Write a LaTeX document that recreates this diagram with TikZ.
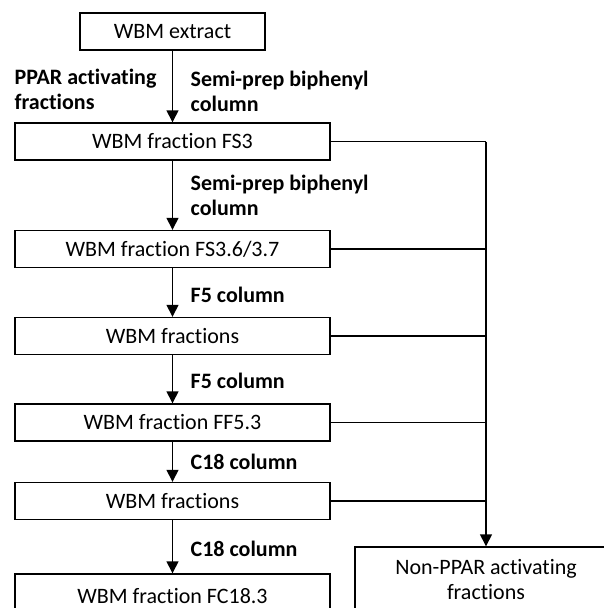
\documentclass[tikz,border=0pt]{standalone}
\usepackage{fontspec}
\setmainfont{Carlito}[Ligatures={NoCommon}]
\usetikzlibrary{arrows.meta}

\begin{document}
\begin{tikzpicture}[x=1pt,y=-1pt,line width=1.4pt,font=\fontsize{22}{25}\selectfont,
  box/.style={draw,rectangle,minimum height=37pt,inner sep=0pt},
  lbl/.style={anchor=west,align=left,font=\fontsize{22}{25}\selectfont\bfseries,inner sep=0pt},
  arr/.style={-{Triangle[width=12pt,length=12pt]}}]
\path[use as bounding box] (0,0) rectangle (604,608);
\clip (0,0) rectangle (604,608);
% main column
\node[box,minimum width=185pt] (ext) at (172.5,31.5) {WBM extract};
\node[box,minimum width=315pt] (fs3) at (172.5,141.5) {WBM fraction FS3};
\node[box,minimum width=315pt] (fs36) at (172.5,249) {WBM fraction FS3.6/3.7};
\node[box,minimum width=315pt] (fr1) at (172.5,336) {WBM fractions};
\node[box,minimum width=315pt] (ff53) at (172.5,422.5) {WBM fraction FF5.3};
\node[box,minimum width=315pt] (fr2) at (172.5,501) {WBM fractions};
\node[box,minimum width=315pt,minimum height=44pt] (fc183) at (172.5,596) {WBM fraction FC18.3};
\node[box,minimum width=262pt,minimum height=66pt,align=center] (non) at (486,580) {Non-PPAR activating\\fractions};
\foreach \a/\b in {ext/fs3,fs3/fs36,fs36/fr1,fr1/ff53,ff53/fr2,fr2/fc183} {\draw[arr] (\a.south) -- (\b.north);}
% side branch
\coordinate (bus) at (486,141.5);
\foreach \n in {fs3,fs36,fr1,ff53,fr2} {\draw (\n.east) -- (\n.east -| bus);}
\draw[arr] (bus) -- (non.north);
% labels
\node[lbl] (ppar) at (14,89) {PPAR activating\\fractions};
\node[lbl] (sp1) at (190,91) {Semi-prep biphenyl\\column};
\node[lbl] (sp2) at (190,195) {Semi-prep biphenyl\\column};
\node[lbl] (f51) at (190,295) {F5 column};
\node[lbl] (f52) at (190,381) {F5 column};
\node[lbl] (c181) at (190,462) {C18 column};
\node[lbl] (c182) at (190,549) {C18 column};
\end{tikzpicture}
\end{document}
